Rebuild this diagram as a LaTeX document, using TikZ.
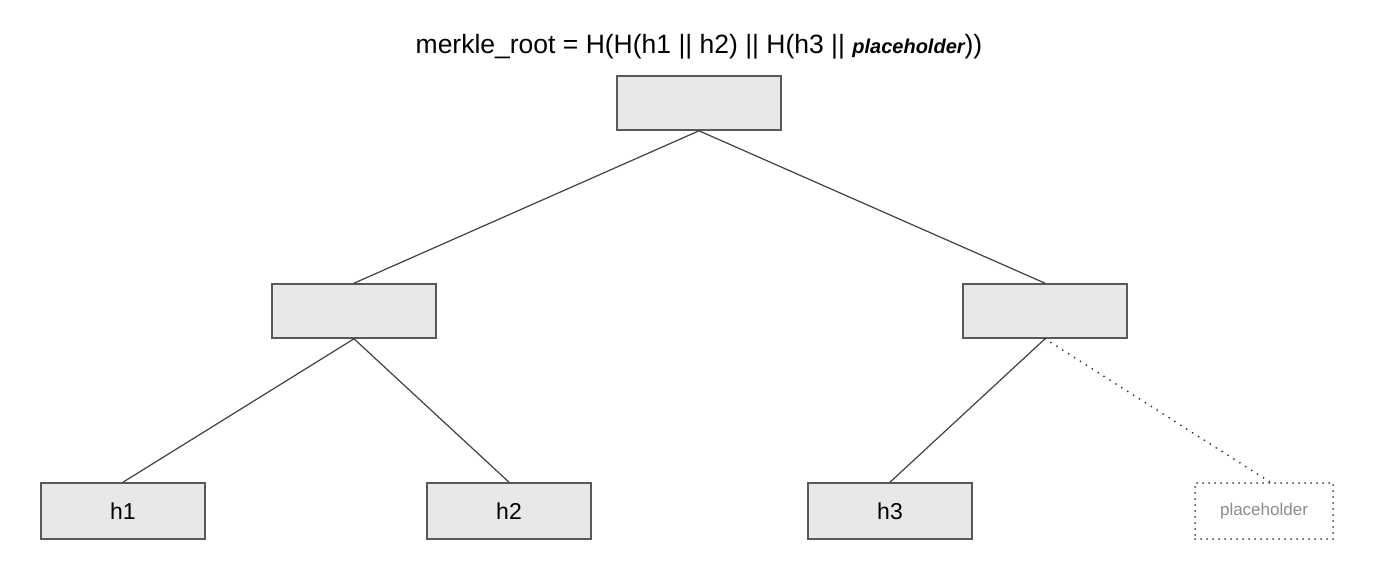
\documentclass[tikz,border=0pt]{standalone}
\usepackage{fontspec}
\setmainfont{Liberation Sans}
\begin{document}
\begin{tikzpicture}[x=1pt,y=-1pt,
  hbox/.style={draw=black!65,line width=1.6pt,fill=black!9,minimum width=164pt,minimum height=54pt,inner sep=0pt,font=\fontsize{23}{26}\selectfont},
  phbox/.style={draw=black!75,line width=2pt,line cap=round,dash pattern=on 0pt off 6pt,minimum width=138pt,minimum height=56pt,inner sep=0pt,text=black!45,font=\fontsize{17}{20}\selectfont},
  edge/.style={draw=black!75,line width=1.2pt},
  dedge/.style={draw=black!80,line width=2pt,line cap=round,dash pattern=on 0pt off 7pt}]
\useasboundingbox (0,0) rectangle (1400,565);
\node[font=\fontsize{26.5}{30}\selectfont] (title) at (699,47) {merkle\_root = H(H(h1 || h2) || H(h3 || {\fontsize{20}{24}\selectfont\bfseries\itshape placeholder}))};
\node[hbox] (root) at (699,103) {};
\node[hbox] (l) at (354,311) {};
\node[hbox] (r) at (1045,311) {};
\node[hbox,minimum height=56pt] (h1) at (123,511) {h1};
\node[hbox,minimum height=56pt] (h2) at (509,511) {h2};
\node[hbox,minimum height=56pt] (h3) at (890,511) {h3};
\node[phbox] (ph) at (1264,511) {placeholder};
\draw[edge] (root.south) -- (l.north);
\draw[edge] (root.south) -- (r.north);
\draw[edge] (l.south) -- (h1.north);
\draw[edge] (l.south) -- (h2.north);
\draw[edge] (r.south) -- (h3.north);
\draw[dedge] (r.south) -- ([xshift=6pt]ph.north);
\end{tikzpicture}
\end{document}
